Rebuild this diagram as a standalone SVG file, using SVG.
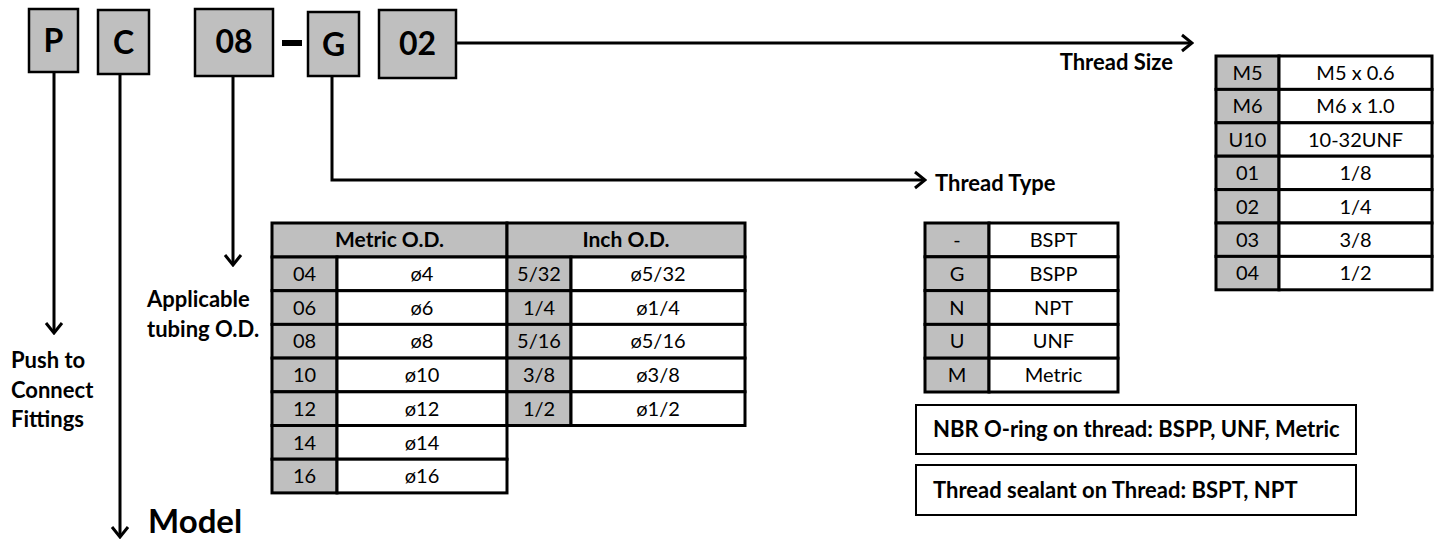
<svg xmlns="http://www.w3.org/2000/svg" width="1440" height="540" viewBox="0 0 1440 540">
<style>
text{font-family:Lato,"Liberation Sans",sans-serif;fill:#000}
.code rect{fill:#bfbfbf;stroke:#000;stroke-width:2.5}
.code text{font-size:32px;font-weight:bold;text-anchor:middle}
.lbl{font-size:22px;font-weight:bold}
.g{fill:#bfbfbf;stroke:#000;stroke-width:3}
.w{fill:#fff;stroke:#000;stroke-width:3}
.t{font-size:20px;text-anchor:middle}
.th{font-size:21px;font-weight:bold;text-anchor:middle}
.note{fill:#fff;stroke:#000;stroke-width:2}
.nt{font-size:22px;font-weight:bold}
.conn path{fill:none;stroke:#000;stroke-width:3}
</style>
<defs>
<marker id="arr" viewBox="0 0 14 20" refX="12" refY="10" markerWidth="14" markerHeight="20" markerUnits="userSpaceOnUse" orient="auto">
<path d="M2,2 L12,10 L2,18" fill="none" stroke="#000" stroke-width="3"/>
</marker>
</defs>

<g id="connectors" class="conn">
<path d="M54,72 V333" marker-end="url(#arr)"/>
<path d="M120,74 V537" marker-end="url(#arr)"/>
<path d="M233,76 V265" marker-end="url(#arr)"/>
<path d="M332,76 V180 H925" marker-end="url(#arr)"/>
<path d="M456,43 H1192" marker-end="url(#arr)"/>
</g>

<g id="node-P" class="code"><rect x="29" y="9" width="49" height="63"/><text x="53.5" y="52">P</text></g>
<g id="node-C" class="code"><rect x="98" y="10" width="51" height="64"/><text x="123.5" y="54">C</text></g>
<g id="node-08" class="code"><rect x="195" y="9" width="78" height="67"/><text x="234" y="53">08</text></g>
<g id="dash"><rect x="282" y="40" width="20" height="6" fill="#000"/></g>
<g id="node-G" class="code"><rect x="308" y="12" width="51" height="64"/><text x="333.5" y="56">G</text></g>
<g id="node-02" class="code"><rect x="379" y="10" width="77" height="68"/><text x="417.5" y="55">02</text></g>

<g id="label-push">
<text class="lbl" x="11" y="368">Push to</text>
<text class="lbl" x="11" y="398">Connect</text>
<text class="lbl" x="11" y="427">Fittings</text>
</g>
<g id="label-model"><text x="148" y="533" font-size="33" font-weight="bold">Model</text></g>
<g id="label-tubing">
<text class="lbl" x="147" y="307">Applicable</text>
<text class="lbl" x="147" y="337">tubing O.D.</text>
</g>
<g id="label-thread-type"><text class="lbl" x="935" y="191">Thread Type</text></g>
<g id="label-thread-size"><text class="lbl" x="1173" y="70" text-anchor="end">Thread Size</text></g>

<g id="table-tubing">
<rect class="g" x="272" y="223" width="235" height="34"/>
<rect class="g" x="507" y="223" width="238" height="34"/>
<text class="th" x="389.5" y="247">Metric O.D.</text>
<text class="th" x="626" y="247">Inch O.D.</text>
<rect class="g" x="272" y="257" width="65" height="33.7"/><rect class="w" x="337" y="257" width="170" height="33.7"/>
<rect class="g" x="272" y="290.7" width="65" height="33.7"/><rect class="w" x="337" y="290.7" width="170" height="33.7"/>
<rect class="g" x="272" y="324.4" width="65" height="33.7"/><rect class="w" x="337" y="324.4" width="170" height="33.7"/>
<rect class="g" x="272" y="358.1" width="65" height="33.7"/><rect class="w" x="337" y="358.1" width="170" height="33.7"/>
<rect class="g" x="272" y="391.8" width="65" height="33.7"/><rect class="w" x="337" y="391.8" width="170" height="33.7"/>
<rect class="g" x="272" y="425.5" width="65" height="33.7"/><rect class="w" x="337" y="425.5" width="170" height="33.7"/>
<rect class="g" x="272" y="459.2" width="65" height="33.7"/><rect class="w" x="337" y="459.2" width="170" height="33.7"/>
<rect class="g" x="507" y="257" width="64" height="33.7"/><rect class="w" x="571" y="257" width="174" height="33.7"/>
<rect class="g" x="507" y="290.7" width="64" height="33.7"/><rect class="w" x="571" y="290.7" width="174" height="33.7"/>
<rect class="g" x="507" y="324.4" width="64" height="33.7"/><rect class="w" x="571" y="324.4" width="174" height="33.7"/>
<rect class="g" x="507" y="358.1" width="64" height="33.7"/><rect class="w" x="571" y="358.1" width="174" height="33.7"/>
<rect class="g" x="507" y="391.8" width="64" height="33.7"/><rect class="w" x="571" y="391.8" width="174" height="33.7"/>
<text class="t" x="304.5" y="281">04</text><text class="t" x="422" y="281">ø4</text>
<text class="t" x="304.5" y="314.7">06</text><text class="t" x="422" y="314.7">ø6</text>
<text class="t" x="304.5" y="348.4">08</text><text class="t" x="422" y="348.4">ø8</text>
<text class="t" x="304.5" y="382.1">10</text><text class="t" x="422" y="382.1">ø10</text>
<text class="t" x="304.5" y="415.8">12</text><text class="t" x="422" y="415.8">ø12</text>
<text class="t" x="304.5" y="449.5">14</text><text class="t" x="422" y="449.5">ø14</text>
<text class="t" x="304.5" y="483.2">16</text><text class="t" x="422" y="483.2">ø16</text>
<text class="t" x="539" y="281">5/32</text><text class="t" x="658" y="281">ø5/32</text>
<text class="t" x="539" y="314.7">1/4</text><text class="t" x="658" y="314.7">ø1/4</text>
<text class="t" x="539" y="348.4">5/16</text><text class="t" x="658" y="348.4">ø5/16</text>
<text class="t" x="539" y="382.1">3/8</text><text class="t" x="658" y="382.1">ø3/8</text>
<text class="t" x="539" y="415.8">1/2</text><text class="t" x="658" y="415.8">ø1/2</text>
</g>

<g id="table-thread-type">
<rect class="g" x="925" y="223" width="64" height="33.8"/><rect class="w" x="989" y="223" width="129" height="33.8"/>
<rect class="g" x="925" y="256.8" width="64" height="33.8"/><rect class="w" x="989" y="256.8" width="129" height="33.8"/>
<rect class="g" x="925" y="290.6" width="64" height="33.8"/><rect class="w" x="989" y="290.6" width="129" height="33.8"/>
<rect class="g" x="925" y="324.4" width="64" height="33.8"/><rect class="w" x="989" y="324.4" width="129" height="33.8"/>
<rect class="g" x="925" y="358.2" width="64" height="33.8"/><rect class="w" x="989" y="358.2" width="129" height="33.8"/>
<text class="t" x="957" y="247">-</text><text class="t" x="1053.5" y="247">BSPT</text>
<text class="t" x="957" y="280.8">G</text><text class="t" x="1053.5" y="280.8">BSPP</text>
<text class="t" x="957" y="314.6">N</text><text class="t" x="1053.5" y="314.6">NPT</text>
<text class="t" x="957" y="348.4">U</text><text class="t" x="1053.5" y="348.4">UNF</text>
<text class="t" x="957" y="382.2">M</text><text class="t" x="1053.5" y="382.2">Metric</text>
</g>

<g id="table-thread-size">
<rect class="g" x="1216" y="56" width="63" height="33.4"/><rect class="w" x="1279" y="56" width="153" height="33.4"/>
<rect class="g" x="1216" y="89.4" width="63" height="33.4"/><rect class="w" x="1279" y="89.4" width="153" height="33.4"/>
<rect class="g" x="1216" y="122.8" width="63" height="33.4"/><rect class="w" x="1279" y="122.8" width="153" height="33.4"/>
<rect class="g" x="1216" y="156.2" width="63" height="33.4"/><rect class="w" x="1279" y="156.2" width="153" height="33.4"/>
<rect class="g" x="1216" y="189.6" width="63" height="33.4"/><rect class="w" x="1279" y="189.6" width="153" height="33.4"/>
<rect class="g" x="1216" y="223" width="63" height="33.4"/><rect class="w" x="1279" y="223" width="153" height="33.4"/>
<rect class="g" x="1216" y="256.4" width="63" height="33.4"/><rect class="w" x="1279" y="256.4" width="153" height="33.4"/>
<text class="t" x="1247.5" y="80">M5</text><text class="t" x="1355.5" y="80">M5 x 0.6</text>
<text class="t" x="1247.5" y="113.4">M6</text><text class="t" x="1355.5" y="113.4">M6 x 1.0</text>
<text class="t" x="1247.5" y="146.8">U10</text><text class="t" x="1355.5" y="146.8">10-32UNF</text>
<text class="t" x="1247.5" y="180.2">01</text><text class="t" x="1355.5" y="180.2">1/8</text>
<text class="t" x="1247.5" y="213.6">02</text><text class="t" x="1355.5" y="213.6">1/4</text>
<text class="t" x="1247.5" y="247">03</text><text class="t" x="1355.5" y="247">3/8</text>
<text class="t" x="1247.5" y="280.4">04</text><text class="t" x="1355.5" y="280.4">1/2</text>
</g>

<g id="note-oring"><rect class="note" x="916" y="405" width="440" height="49"/><text class="nt" x="933" y="437">NBR O-ring on thread: BSPP, UNF, Metric</text></g>
<g id="note-sealant"><rect class="note" x="916" y="465" width="440" height="50"/><text class="nt" x="933" y="498">Thread sealant on Thread: BSPT, NPT</text></g>
</svg>
